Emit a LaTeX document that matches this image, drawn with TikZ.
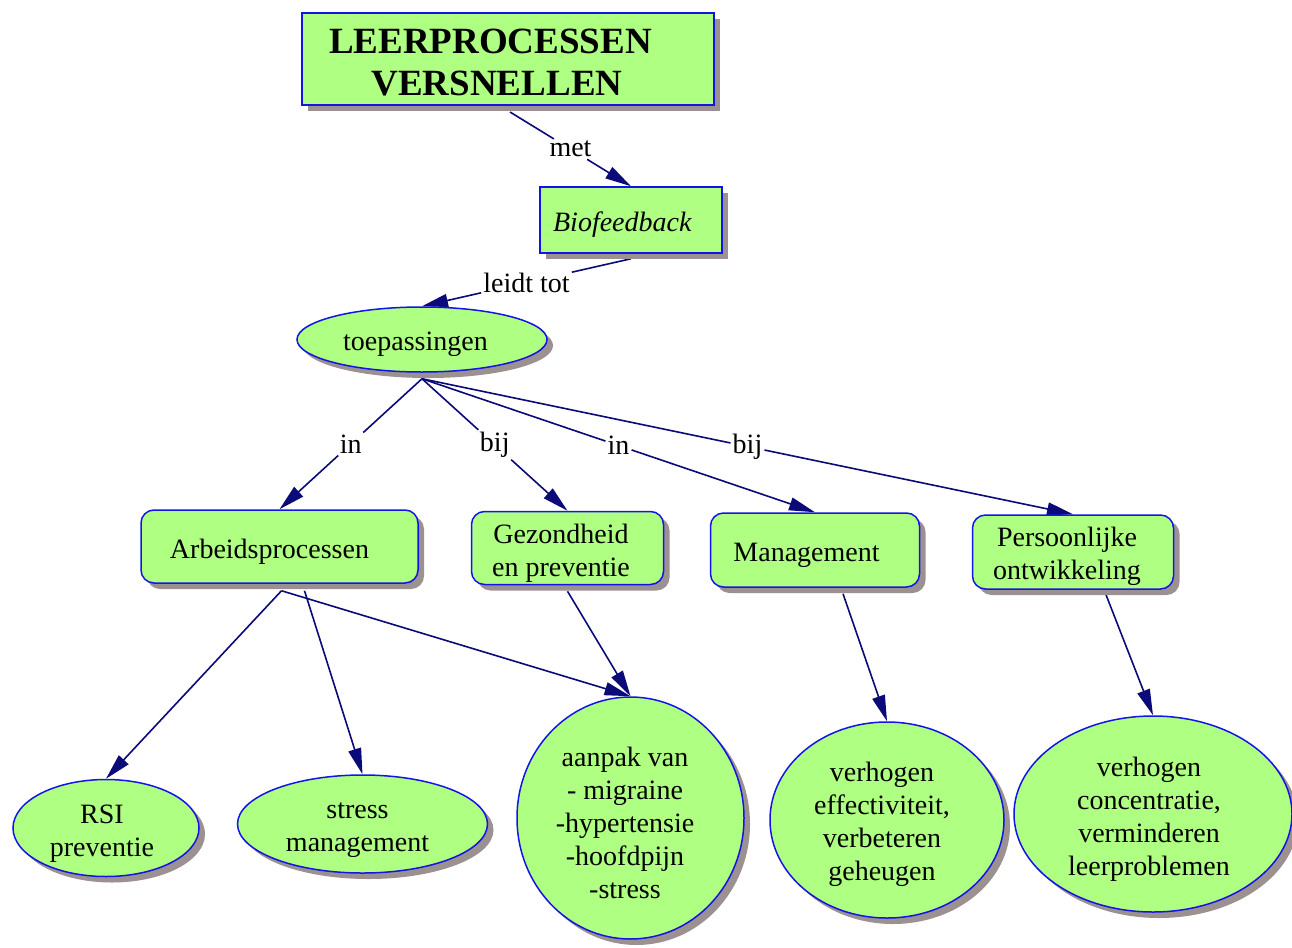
\documentclass[tikz,border=0pt]{standalone}
\usepackage{fontspec}
\setmainfont{Liberation Serif}
\usetikzlibrary{shapes.geometric,shadows,arrows.meta,calc}
\definecolor{boxfill}{RGB}{175,255,130}
\definecolor{boxline}{RGB}{20,20,230}
\definecolor{linkc}{RGB}{10,10,120}
\definecolor{shadowc}{RGB}{155,145,145}
\pgfdeclarelayer{bglayer}
\pgfdeclarelayer{linklayer}
\pgfsetlayers{bglayer,linklayer,main}
\newcommand{\lsh}[1]{\hspace*{-#1pt}}
\newcommand{\fsh}[1]{\rule{0pt}{29pt}\hspace*{-#1pt}}
\begin{document}
\begin{tikzpicture}[x=1pt,y=-1pt,
  every node/.style={font=\fontsize{28}{33}\selectfont},
  concept/.style={fill=boxfill, draw=boxline, line width=1.5pt, inner sep=0pt, align=center,
    drop shadow={shadow xshift=6pt, shadow yshift=-6pt, fill=shadowc, opacity=1}},
  sqbox/.style={concept, rectangle},
  rbox/.style={concept, rectangle, rounded corners=13pt},
  oval/.style={concept, ellipse},
  lbl/.style={inner sep=2pt},
  link/.style={draw=linkc, line width=1.6pt},
  arrowlink/.style={link, -{Triangle[length=26pt,width=13pt]}}]
\useasboundingbox (0,0) rectangle (1292,947);
\begin{pgfonlayer}{bglayer}
\fill[white] (0,0) rectangle (1292,947);
\end{pgfonlayer}

% concepts
\node[sqbox, minimum width=412pt, minimum height=92pt, line width=2pt,
  font=\fontsize{37}{42}\selectfont\bfseries] (title) at (508,59)
  {\rule{0pt}{31pt}\lsh{35}LEERPROCESSEN\\\lsh{22}VERSNELLEN};
\node[sqbox, minimum width=182pt, minimum height=66pt] (bio) at (631,220) {\fsh{17}\textit{Biofeedback}};
\node[oval, minimum width=250pt, minimum height=65pt] (toep) at (422,339.5) {\fsh{13}toepassingen};
\node[rbox, minimum width=277pt, minimum height=73pt] (arb) at (279.5,546.5) {\fsh{20}Arbeidsprocessen};
\node[rbox, minimum width=192pt, minimum height=73pt] (gez) at (567.5,548) {\fsh{13}Gezondheid\\\lsh{13}en preventie};
\node[rbox, minimum width=209pt, minimum height=74pt] (man) at (815,550) {\fsh{17}Management};
\node[rbox, minimum width=201pt, minimum height=74pt] (pers) at (1073,552) {\fsh{12}Persoonlijke\\\lsh{12}ontwikkeling};
\node[oval, minimum width=186pt, minimum height=97pt] (rsi) at (106,828) {\fsh{8}RSI\\\lsh{8}preventie};
\node[oval, minimum width=250pt, minimum height=98pt] (stress) at (362.5,824) {\fsh{10}stress\\\lsh{10}management};
\node[oval, minimum width=227pt, minimum height=242pt] (aanpak) at (630.5,818)
  {\fsh{11}aanpak van\\\lsh{11}- migraine\\\lsh{11}-hypertensie\\\lsh{11}-hoofdpijn\\\lsh{11}-stress};
\node[oval, minimum width=234pt, minimum height=196pt] (eff) at (887,820)
  {\fsh{10}verhogen\\\lsh{10}effectiviteit,\\\lsh{10}verbeteren\\\lsh{10}geheugen};
\node[oval, minimum width=278pt, minimum height=196pt] (conc) at (1153,814)
  {\fsh{8}verhogen\\\lsh{8}concentratie,\\\lsh{8}verminderen\\\lsh{8}leerproblemen};

% start points of connectors (just below the shadows)
\coordinate (s-title) at ([xshift=2pt,yshift=-6pt]title.south);
\coordinate (s-bio) at ([yshift=-5pt]bio.south);
\coordinate (s-toep) at ([yshift=-6pt]toep.south);

% linking phrases
\path (s-title) -- (bio.north) node[lbl,pos=.5] (l-met) {met};
\path (s-bio) -- (toep.north) node[lbl,pos=.5] (l-leidt) {leidt tot};
\path (s-toep) -- (arb.north) node[lbl,pos=.5] (l-in1) {in};
\path (s-toep) -- (gez.north) node[lbl,pos=.5] (l-bij1) {bij};
\path (s-toep) -- (man.north) node[lbl,pos=.5] (l-in2) {in};
\path (s-toep) -- (pers.north) node[lbl,pos=.5] (l-bij2) {bij};

\begin{pgfonlayer}{linklayer}
\draw[link] (s-title) -- (l-met);
\draw[arrowlink] (l-met) -- (bio.north);
\draw[link] (s-bio) -- (l-leidt);
\draw[arrowlink] (l-leidt) -- (toep.north);
\draw[link] (s-toep) -- (l-in1);
\draw[arrowlink] (l-in1) -- (arb.north);
\draw[link] (s-toep) -- (l-bij1);
\draw[arrowlink] (l-bij1) -- (gez.north);
\draw[link] (s-toep) -- (l-in2);
\draw[arrowlink] (l-in2) -- (man.north);
\draw[link] (s-toep) -- (l-bij2);
\draw[arrowlink] (l-bij2) -- (pers.north);
\draw[arrowlink] ([xshift=2pt,yshift=-7pt]arb.south) -- (rsi.north);
\draw[arrowlink] ([xshift=25pt,yshift=-7pt]arb.south) -- (stress.north);
\draw[arrowlink] ([xshift=2pt,yshift=-7pt]arb.south) -- (aanpak.north);
\draw[arrowlink] ([yshift=-6pt]gez.south) -- (aanpak.north);
\draw[arrowlink] ([xshift=28pt,yshift=-6pt]man.south) -- (eff.north);
\draw[arrowlink] ([xshift=33pt,yshift=-5pt]pers.south) -- (conc.north);
\end{pgfonlayer}
\end{tikzpicture}
\end{document}
